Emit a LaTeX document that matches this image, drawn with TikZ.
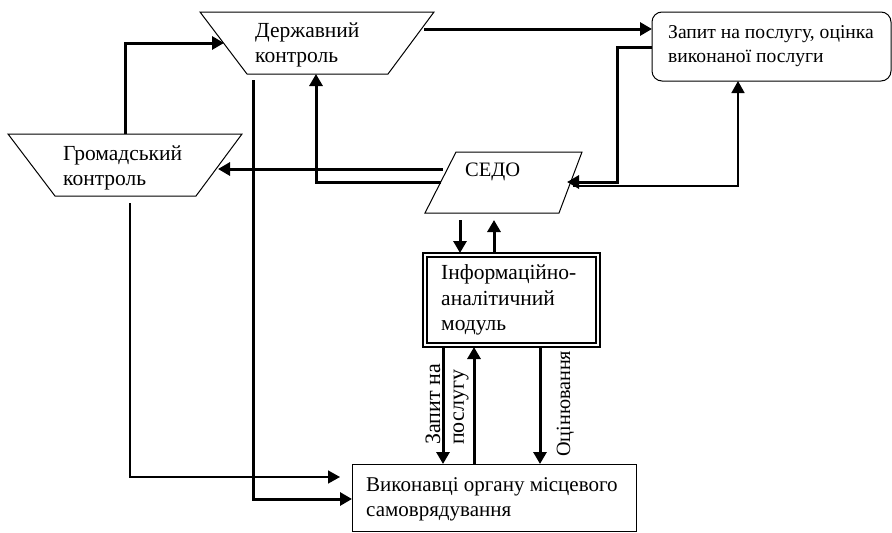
\documentclass[tikz,border=0pt]{standalone}
\usepackage{fontspec}
\setmainfont{Liberation Serif}
\usetikzlibrary{arrows.meta}
\tikzset{
  shp/.style={line width=1pt, line join=miter},
  thk/.style={line width=3pt, -{Triangle[length=12pt,width=13pt]}},
  thn/.style={line width=1.6pt, -{Triangle[length=12pt,width=13pt]}},
  lbl/.style={font=\fontsize{21.5}{25.5}\selectfont, align=left, inner sep=0pt, anchor=west},
  vlbl/.style={font=\fontsize{22}{25}\selectfont, inner sep=0pt, anchor=west, rotate=90}
}
\begin{document}
\begin{tikzpicture}[x=1pt,y=-1pt]
\useasboundingbox (0,0) rectangle (892,533);
% shapes
\draw[shp] (200,12) -- (434,12) -- (388,74) -- (247,74) -- cycle;
\draw[shp] (8,134) -- (242,134) -- (196,196) -- (55,196) -- cycle;
\draw[shp] (456,152) -- (582,152) -- (559,213) -- (425,213) -- cycle;
\draw[shp, rounded corners=10pt] (652,12) rectangle (891,81);
\draw[line width=2pt] (423,253) rectangle (600,347);
\draw[line width=1.6pt] (427,257) rectangle (596,343);
\draw[shp] (352,464) rectangle (636,531);
% texts
\node[lbl] (dk) at (255,45) {Державний\\контроль};
\node[lbl] (gk) at (63,168) {Громадський\\контроль};
\node[lbl, font=\fontsize{20.5}{25}\selectfont] (sedo) at (465,172) {СЕДО};
\node[lbl, font=\fontsize{19.6}{23.5}\selectfont] (zap) at (668,46) {Запит на послугу, оцінка\\виконаної послуги};
\node[lbl] (iam) at (441,300) {Інформаційно-\\аналітичний\\модуль};
\node[lbl, font=\fontsize{21}{25}\selectfont] (vyk) at (366,499.5) {Виконавці органу місцевого\\самоврядування};
\node[vlbl] (l1) at (433,445) {Запит на};
\node[vlbl] (l2) at (461,445) {послугу};
\node[vlbl, font=\fontsize{20.2}{25}\selectfont] (l3) at (565.5,457) {Оцінювання};
% connector coordinates
\coordinate (gkTop) at (125,134);
\coordinate (dkLeft) at (224,43);
\coordinate (dkRight) at (424,29);
\coordinate (zapLeft) at (652,29);
\coordinate (zapLeft2) at (652,47);
\coordinate (zapBot) at (738,81);
\coordinate (sedoL1) at (443,169);
\coordinate (sedoL2) at (441,182);
\coordinate (sedoR1) at (567,182);
\coordinate (sedoR2) at (573,186);
\coordinate (gkRight) at (218,169);
\coordinate (dkBot) at (316,74);
\coordinate (dkOut) at (253,80);
\coordinate (gkOut) at (130,203);
\coordinate (vykL1) at (340,477);
\coordinate (vykL2) at (352,499);
% connectors
\draw[thk] (gkTop) |- (dkLeft);
\draw[thk] (dkRight) -- (zapLeft);
\draw[thk] (zapLeft2) -| (617,182) -- (sedoR1);
\draw[thn] (sedoR2) -| (zapBot);
\draw[thk] (sedoL1) -- (gkRight);
\draw[thk] (sedoL2) -| (dkBot);
\draw[thk] (dkOut) |- (vykL2);
\draw[thn] (gkOut) |- (vykL1);
\draw[thk] (460,220) -- (460,253);
\draw[thk] (494,253) -- (494,220);
\draw[thk] (443,347) -- (443,464);
\draw[thk] (474,464) -- (474,347);
\draw[thk] (540,347) -- (540,464);
\end{tikzpicture}
\end{document}
